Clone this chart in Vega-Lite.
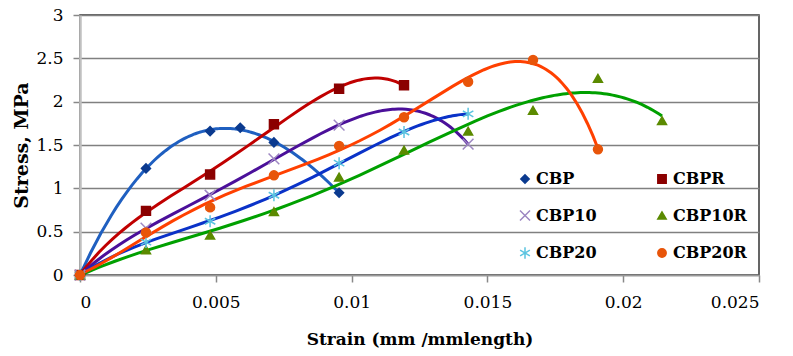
{
  "$schema": "https://vega.github.io/schema/vega-lite/v6.json",
  "autosize": "none",
  "width": 679,
  "height": 260,
  "padding": {"left": 80, "top": 15, "right": 34, "bottom": 81},
  "background": "white",
  "config": {
    "view": {"stroke": "#333333", "strokeWidth": 1.5},
    "axis": {
      "labelFont": "DejaVu Serif", "labelFontSize": 17, "labelColor": "#000",
      "titleFont": "DejaVu Serif", "titleFontSize": 17, "titleFontWeight": "bold", "titleColor": "#000",
      "tickColor": "#888", "tickSize": 7, "tickWidth": 1.5, "domainColor": "#999", "domainWidth": 1.5
    },
    "legend": {
      "orient": "none", "legendX": 437, "legendY": 156, "columns": 2, "columnPadding": 57, "rowPadding": 19.5,
      "labelFont": "DejaVu Serif", "labelFontSize": 16, "labelFontWeight": "bold", "labelColor": "#000",
      "symbolSize": 70, "symbolStrokeWidth": 1.5, "labelOffset": 3, "padding": 0
    }
  },
  "data": {"values": [
    {"series": "CBP", "x": 0, "y": 0},
    {"series": "CBP", "x": 0.00243, "y": 1.23},
    {"series": "CBP", "x": 0.00479, "y": 1.66},
    {"series": "CBP", "x": 0.0059, "y": 1.70},
    {"series": "CBP", "x": 0.00714, "y": 1.53},
    {"series": "CBP", "x": 0.00954, "y": 0.95},
    {"series": "CBPR", "x": 0, "y": 0},
    {"series": "CBPR", "x": 0.00243, "y": 0.74},
    {"series": "CBPR", "x": 0.00479, "y": 1.16},
    {"series": "CBPR", "x": 0.00714, "y": 1.74},
    {"series": "CBPR", "x": 0.00954, "y": 2.15},
    {"series": "CBPR", "x": 0.01193, "y": 2.19},
    {"series": "CBP10", "x": 0, "y": 0},
    {"series": "CBP10", "x": 0.00243, "y": 0.54},
    {"series": "CBP10", "x": 0.00479, "y": 0.92},
    {"series": "CBP10", "x": 0.00714, "y": 1.34},
    {"series": "CBP10", "x": 0.00954, "y": 1.73},
    {"series": "CBP10", "x": 0.01429, "y": 1.51},
    {"series": "CBP10R", "x": 0, "y": 0},
    {"series": "CBP10R", "x": 0.00243, "y": 0.29},
    {"series": "CBP10R", "x": 0.00479, "y": 0.46},
    {"series": "CBP10R", "x": 0.00714, "y": 0.73},
    {"series": "CBP10R", "x": 0.00954, "y": 1.13},
    {"series": "CBP10R", "x": 0.01193, "y": 1.44},
    {"series": "CBP10R", "x": 0.01429, "y": 1.66},
    {"series": "CBP10R", "x": 0.01668, "y": 1.90},
    {"series": "CBP10R", "x": 0.01907, "y": 2.27},
    {"series": "CBP10R", "x": 0.02143, "y": 1.78},
    {"series": "CBP20", "x": 0, "y": 0},
    {"series": "CBP20", "x": 0.00243, "y": 0.38},
    {"series": "CBP20", "x": 0.00479, "y": 0.62},
    {"series": "CBP20", "x": 0.00714, "y": 0.92},
    {"series": "CBP20", "x": 0.00954, "y": 1.29},
    {"series": "CBP20", "x": 0.01193, "y": 1.65},
    {"series": "CBP20", "x": 0.01429, "y": 1.86},
    {"series": "CBP20R", "x": 0, "y": 0},
    {"series": "CBP20R", "x": 0.00243, "y": 0.49},
    {"series": "CBP20R", "x": 0.00479, "y": 0.78},
    {"series": "CBP20R", "x": 0.00714, "y": 1.15},
    {"series": "CBP20R", "x": 0.00954, "y": 1.49},
    {"series": "CBP20R", "x": 0.01193, "y": 1.82},
    {"series": "CBP20R", "x": 0.01429, "y": 2.23},
    {"series": "CBP20R", "x": 0.01668, "y": 2.48},
    {"series": "CBP20R", "x": 0.01907, "y": 1.45}
  ]},
  "encoding": {
    "x": {"field": "x", "type": "quantitative", "scale": {"domain": [0, 0.025], "nice": false},
      "axis": {"values": [0, 0.005, 0.01, 0.015, 0.02, 0.025], "format": "~g", "grid": false, "title": "Strain (mm /mmlength)", "labelPadding": 12, "titlePadding": 21}},
    "y": {"field": "y", "type": "quantitative", "scale": {"domain": [0, 3], "nice": false},
      "axis": {"values": [0, 0.5, 1, 1.5, 2, 2.5, 3], "format": "~g", "grid": true, "gridColor": "#808080", "gridWidth": 1.5, "title": "Stress, MPa", "titleFontSize": 19, "labelPadding": 10, "titlePadding": 4, "domainColor": "#c0c0c0", "domainWidth": 2.5}}
  },
  "layer": [
    {"transform": [{"filter": "datum.series == 'CBP'"}, {"regression": "y", "on": "x", "method": "poly", "order": 3}],
     "mark": {"type": "line", "strokeWidth": 3, "color": "#1f5fc0"}, "encoding": {}},
    {"transform": [{"filter": "datum.series == 'CBPR'"}, {"regression": "y", "on": "x", "method": "poly", "order": 4}],
     "mark": {"type": "line", "strokeWidth": 3, "color": "#c00000"}, "encoding": {}},
    {"transform": [{"filter": "datum.series == 'CBP10'"}, {"regression": "y", "on": "x", "method": "poly", "order": 4}],
     "mark": {"type": "line", "strokeWidth": 3, "color": "#4b109a"}, "encoding": {}},
    {"transform": [{"filter": "datum.series == 'CBP10R'"}, {"regression": "y", "on": "x", "method": "poly", "order": 4}],
     "mark": {"type": "line", "strokeWidth": 3, "color": "#00a000"}, "encoding": {}},
    {"transform": [{"filter": "datum.series == 'CBP20'"}, {"regression": "y", "on": "x", "method": "poly", "order": 4}],
     "mark": {"type": "line", "strokeWidth": 3, "color": "#0a32c8"}, "encoding": {}},
    {"transform": [{"filter": "datum.series == 'CBP20R'"}, {"regression": "y", "on": "x", "method": "poly", "order": 5}],
     "mark": {"type": "line", "strokeWidth": 3, "color": "#ff4000"}, "encoding": {}},
    {
      "mark": {"type": "point", "opacity": 1, "strokeWidth": 1.5, "size": 80},
      "encoding": {
        "fill": {"field": "series", "type": "nominal", "title": null,
          "scale": {"domain": ["CBP", "CBP10", "CBP20", "CBPR", "CBP10R", "CBP20R"],
            "range": ["#0b3a8f", "transparent", "transparent", "#8b0000", "#5b8a00", "#e8550a"]}},
        "stroke": {"field": "series", "type": "nominal", "title": null,
          "scale": {"domain": ["CBP", "CBP10", "CBP20", "CBPR", "CBP10R", "CBP20R"],
            "range": ["#0b3a8f", "#9d87c2", "#5bc4e0", "#8b0000", "#5b8a00", "#e8550a"]}},
        "shape": {"field": "series", "type": "nominal", "title": null,
          "scale": {"domain": ["CBP", "CBP10", "CBP20", "CBPR", "CBP10R", "CBP20R"],
            "range": ["diamond", "M-1.2,-1.2L1.2,1.2M-1.2,1.2L1.2,-1.2", "M0,-1.35L0,1.35M-1.17,-0.67L1.17,0.67M-1.17,0.67L1.17,-0.67", "square", "triangle-up", "circle"]}}
      }
    }
  ]
}
